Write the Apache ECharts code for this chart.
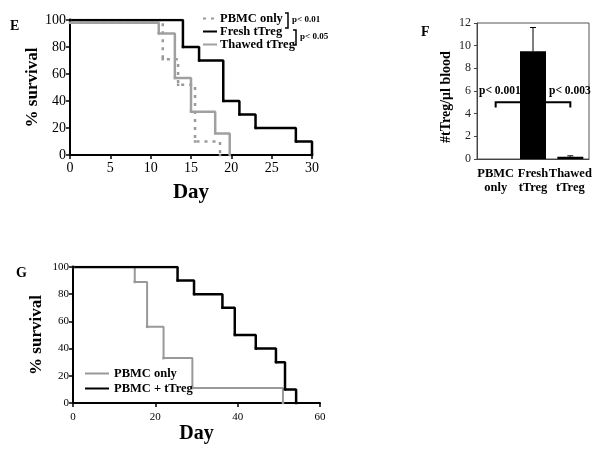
<!DOCTYPE html>
<html><head><meta charset="utf-8">
<script src="https://cdn.jsdelivr.net/npm/echarts@6/dist/echarts.min.js"></script>
<style>html,body{margin:0;padding:0;background:#fff}#c{width:602px;height:451px}</style>
</head><body><div id="c"></div>
<script>
// Panel E: survival (day, % survival) step points
const ePBMC = [[0,100],[11.5,71],[13.4,52],[15.5,10],[18.6,0]];
const eFresh = [[0,100],[14,80],[16,70],[19,40],[21,30],[23,20],[28,10],[30,0]];
const eThawed = [[0,98],[11,90],[13,57],[15,32],[18,16],[19.8,0]];
const eXTicks = [0,5,10,15,20,25,30];
const eYTicks = [0,20,40,60,80,100];
// Panel F: bar chart
const fCategories = ['PBMC\nonly','Fresh\ntTreg','Thawed\ntTreg'];
const fValues = [0, 9.5, 0.2];
const fErrors = [0, 2.1, 0.08];
const fYTicks = [0,2,4,6,8,10,12];
// Panel G: survival
const gPBMC = [[0,100],[15,89],[18,56],[22,33],[29,11],[51,0]];
const gTreg = [[0,100],[25.4,90],[29.4,80],[36.3,70],[39.3,50],[44.4,40],[49.3,30],[51.5,10],[54.2,0]];
const gXTicks = [0,20,40,60];
const gYTicks = [0,20,40,60,80,100];

const SERIF = 'Liberation Serif';
const chart = echarts.init(document.getElementById('c'), null, {renderer:'canvas'});

function survAxisX(idx, max, interval, fs, margin, nameGap, nameSize){
  return {gridIndex: idx, type:'value', min:0, max:max, interval:interval,
    name:'Day', nameLocation:'middle', nameGap:nameGap,
    nameTextStyle:{fontFamily:SERIF, fontWeight:'bold', fontSize:nameSize, color:'#000'},
    axisLine:{show:true, lineStyle:{color:'#000', width:2}},
    axisTick:{show:true, length:4, lineStyle:{color:'#000', width:1.5}},
    axisLabel:{fontFamily:SERIF, fontSize:fs, color:'#000', margin:margin},
    splitLine:{show:false}};
}
function survAxisY(idx, fs, nameGap, nameSize){
  return {gridIndex: idx, type:'value', min:0, max:100, interval:20,
    name:'% survival', nameLocation:'middle', nameGap:nameGap, nameRotate:90,
    nameTextStyle:{fontFamily:SERIF, fontWeight:'bold', fontSize:nameSize, color:'#000'},
    axisLine:{show:true, lineStyle:{color:'#000', width:2}},
    axisTick:{show:true, length:4, lineStyle:{color:'#000', width:1.5}},
    axisLabel:{fontFamily:SERIF, fontSize:fs, color:'#000', margin:4},
    splitLine:{show:false}};
}
function stepSeries(name, data, xi, yi, color, width, type){
  return {name:name, type:'line', step:'end', xAxisIndex:xi, yAxisIndex:yi, data:data,
    showSymbol:true, symbol:'rect', symbolSize:2.5, itemStyle:{color:color},
    lineStyle:{color:color, width:width, type:type}, animation:false, z:3};
}

const option = {
  animation:false,
  backgroundColor:'#fff',
  grid:[
    {left:70, top:20, width:242, height:135},
    {left:477, top:23, width:112, height:136, show:true, borderColor:'#555', borderWidth:1, backgroundColor:'transparent'},
    {left:73, top:267, width:247, height:136}
  ],
  xAxis:[
    survAxisX(0, 30, 5, 14, 6, 27, 21),
    {gridIndex:1, type:'category', data:fCategories,
      axisLine:{show:true, lineStyle:{color:'#444', width:1}},
      axisTick:{show:false},
      axisLabel:{fontFamily:SERIF, fontWeight:'bold', fontSize:12.5, color:'#000', margin:8, lineHeight:14, interval:0}},
    survAxisX(2, 60, 20, 11, 9, 19, 20)
  ],
  yAxis:[
    survAxisY(0, 14, 28, 17),
    {gridIndex:1, type:'value', min:0, max:12, interval:2,
      name:'#tTreg/μl blood', nameLocation:'middle', nameGap:24, nameRotate:90,
      nameTextStyle:{fontFamily:SERIF, fontWeight:'bold', fontSize:14, color:'#000', padding:[0,12,0,0]},
      axisLine:{show:true, lineStyle:{color:'#444', width:1}},
      axisTick:{show:true, length:3, lineStyle:{color:'#444'}},
      axisLabel:{fontFamily:SERIF, fontSize:12, color:'#222', margin:6},
      splitLine:{show:false}},
    survAxisY(2, 11, 28, 17)
  ],
  legend:[
    {left:197, top:7, orient:'vertical', itemGap:0, itemWidth:14, itemHeight:12,
      itemStyle:{opacity:0},
      data:['PBMC only','Fresh tTreg','Thawed tTreg'],
      textStyle:{fontFamily:SERIF, fontWeight:'bold', fontSize:12.5, color:'#000', lineHeight:12, padding:[0,0,0,-2]}},
    {left:79, top:362, orient:'vertical', itemGap:2, itemWidth:24, itemHeight:12,
      itemStyle:{opacity:0},
      data:['PBMC only ','PBMC + tTreg'],
      textStyle:{fontFamily:SERIF, fontWeight:'bold', fontSize:12.5, color:'#000', padding:[0,0,0,0]}}
  ],
  series:[
    stepSeries('PBMC only', ePBMC, 0, 0, '#9a9a9a', 2.5, [3,5]),
    stepSeries('Thawed tTreg', eThawed, 0, 0, '#a0a0a0', 2.5, 'solid'),
    stepSeries('Fresh tTreg', eFresh, 0, 0, '#000', 2.5, 'solid'),
    {type:'bar', xAxisIndex:1, yAxisIndex:1, data:fValues, barWidth:26,
      itemStyle:{color:'#000'}, z:4},
    {type:'custom', xAxisIndex:1, yAxisIndex:1, z:5,
      data:fValues.map((v,i)=>[i, v, fErrors[i]]),
      renderItem:function(params, api){
        const i = api.value(0), v = api.value(1), e = api.value(2);
        if (!e) return null;
        const p0 = api.coord([i, v]), p1 = api.coord([i, v+e]);
        return {type:'group', children:[
          {type:'line', shape:{x1:p0[0], y1:p0[1], x2:p1[0], y2:p1[1]}, style:{stroke:'#000', lineWidth:1}},
          {type:'line', shape:{x1:p1[0]-3, y1:p1[1], x2:p1[0]+3, y2:p1[1]}, style:{stroke:'#000', lineWidth:1}}
        ]};
      }},
    {type:'custom', xAxisIndex:1, yAxisIndex:1, z:2, silent:true,
      data:[[0, 2, 5.0, 4.55]],
      renderItem:function(params, api){
        const a = api.coord([api.value(0), api.value(2)]);
        const b = api.coord([api.value(1), api.value(2)]);
        const lo = api.coord([0, api.value(3)]);
        return {type:'polyline', shape:{points:[[a[0], lo[1]],[a[0], a[1]],[b[0], b[1]],[b[0], lo[1]]]},
          style:{stroke:'#000', lineWidth:2, fill:null}};
      }},
    stepSeries('PBMC only ', gPBMC, 2, 2, '#999', 2, 'solid'),
    stepSeries('PBMC + tTreg', gTreg, 2, 2, '#000', 2.5, 'solid')
  ],
  graphic:[
    {type:'text', left:10, top:19, style:{text:'E', font:'bold 14px "Liberation Serif"', fill:'#000'}},
    {type:'text', left:421, top:25, style:{text:'F', font:'bold 14px "Liberation Serif"', fill:'#000'}},
    {type:'text', left:16, top:266, style:{text:'G', font:'bold 14px "Liberation Serif"', fill:'#000'}},
    {type:'polyline', shape:{points:[[285,13],[288,13],[288,28],[285,28]]}, style:{stroke:'#000', lineWidth:1.5, fill:null}},
    {type:'text', left:292, top:15, style:{text:'p< 0.01', font:'bold 9px "Liberation Serif"', fill:'#000'}},
    {type:'polyline', shape:{points:[[293,30],[296,30],[296,45],[293,45]]}, style:{stroke:'#000', lineWidth:1.5, fill:null}},
    {type:'text', left:300, top:32, style:{text:'p< 0.05', font:'bold 9px "Liberation Serif"', fill:'#000'}},
    {type:'text', left:479, top:85, style:{text:'p< 0.001', font:'bold 11.5px "Liberation Serif"', fill:'#000'}},
    {type:'text', left:549, top:85, style:{text:'p< 0.003', font:'bold 11.5px "Liberation Serif"', fill:'#000'}}
  ]
};
chart.setOption(option);
</script></body></html>
